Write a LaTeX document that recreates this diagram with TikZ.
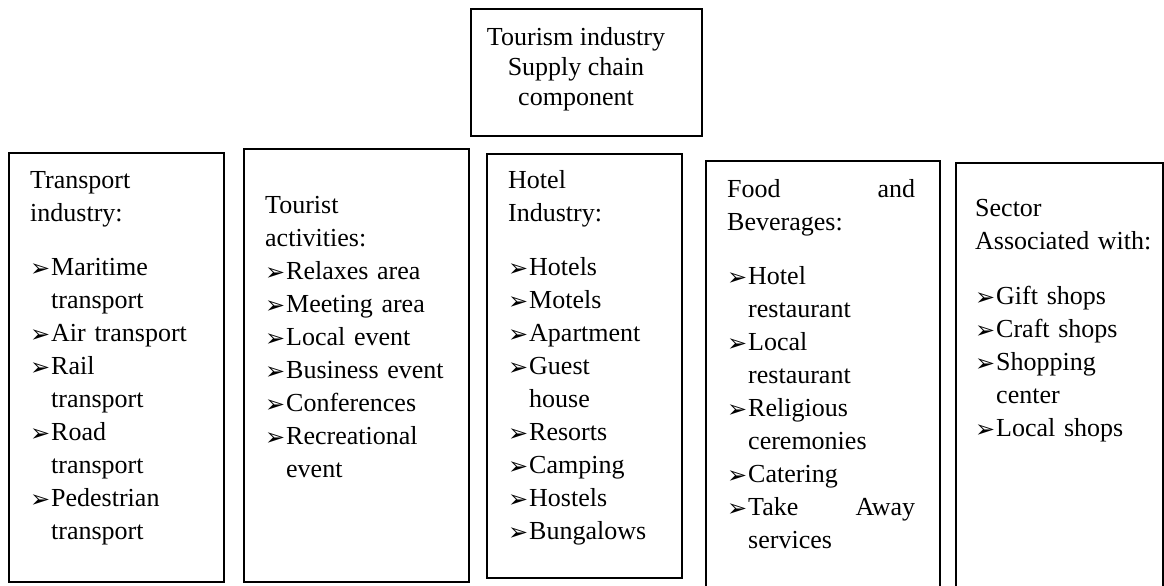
\documentclass[tikz,border=0pt]{standalone}
\usepackage{fontspec}
\setmainfont{Liberation Serif}
\newfontfamily\dingfont{DejaVu Sans}
\newcommand{\bul}{\makebox[21pt][l]{\raisebox{-1pt}{\fontsize{24}{24}\dingfont\symbol{"27A2}}}}
\newcommand{\ind}{\hspace*{21pt}}

\begin{document}
\begin{tikzpicture}
        [x=1pt,y=-1pt,
        panel/.style={rectangle,draw=black,line width=2.4pt,inner sep=0pt,anchor=north west},
        header/.style={rectangle,draw=black,line width=1.8pt,inner sep=0pt,anchor=north west},
        paneltext/.style={anchor=north west,inner sep=0pt,align=left,font=\fontsize{26}{33}\selectfont},
        headtext/.style={anchor=north,inner sep=0pt,align=center,font=\fontsize{26}{30}\selectfont}
        ]
        \useasboundingbox (0,0) rectangle (1164,586);
        \node[header,minimum width=231pt,minimum height=127pt] (supply) at (470, 8) {};
        \node[panel,minimum width=215pt,minimum height=429pt] (transport) at (8, 152) {};
        \node[panel,minimum width=225pt,minimum height=433pt] (activities) at (243, 148) {};
        \node[panel,minimum width=195pt,minimum height=424pt] (hotel) at (486, 153) {};
        \node[panel,minimum width=234pt,minimum height=440pt] (food) at (705, 160) {};
        \node[panel,minimum width=207pt,minimum height=440pt] (sector) at (955, 162) {};
        \node[headtext] (supply-text) at (576, 24) {\strut Tourism industry\\Supply chain\\component};
        \node[paneltext,text width=185pt] (transport-text) at (30, 164.9)
            {\strut Transport\\industry:\\[21pt]
            \bul Maritime\\\ind transport\\\bul Air transport\\\bul Rail\\\ind transport\\
            \bul Road\\\ind transport\\\bul Pedestrian\\\ind transport};
        \node[paneltext,text width=200pt] (activities-text) at (265, 189.9)
            {\strut Tourist\\activities:\\
            \bul Relaxes area\\\bul Meeting area\\\bul Local event\\\bul Business event\\
            \bul Conferences\\\bul Recreational\\\ind event};
        \node[paneltext,text width=165pt] (hotel-text) at (508, 164.9)
            {\strut Hotel\\Industry:\\[21pt]
            \bul Hotels\\\bul Motels\\\bul Apartment\\\bul Guest\\\ind house\\
            \bul Resorts\\\bul Camping\\\bul Hostels\\\bul Bungalows};
        \node[paneltext,text width=188pt] (food-text) at (727, 173.9)
            {\strut Food\hfill and\\Beverages:\\[21pt]
            \bul Hotel\\\ind restaurant\\\bul Local\\\ind restaurant\\\bul Religious\\\ind ceremonies\\
            \bul Catering\\\bul Take\hfill Away\\\ind services};
        \node[paneltext,text width=180pt] (sector-text) at (975, 192.9)
            {\strut Sector\\Associated with:\\[22pt]
            \bul Gift shops\\\bul Craft shops\\\bul Shopping\\\ind center\\\bul Local shops};
    \end{tikzpicture}
\end{document}
